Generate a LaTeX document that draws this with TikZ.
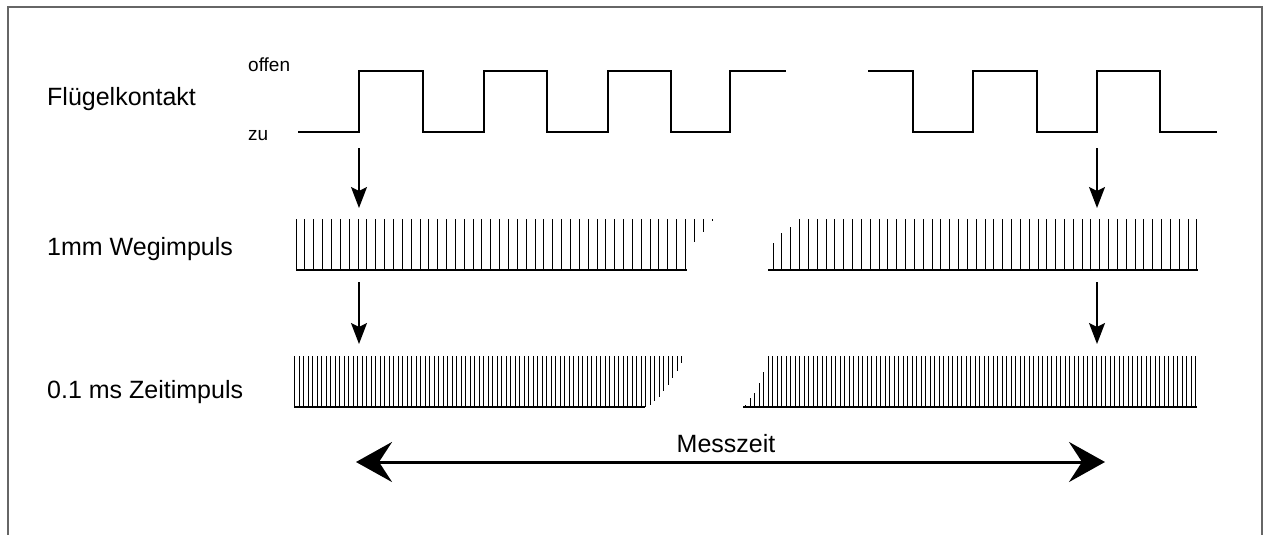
\documentclass[tikz,border=0pt]{standalone}
\usepackage{fontspec}
\setmainfont{Liberation Sans}
\usetikzlibrary{arrows.meta}
\begin{document}
\begin{tikzpicture}[x=1pt,y=-1pt,
  lbl/.style={anchor=base west,inner sep=0pt,font=\fontsize{25}{30}\selectfont},
  lvl/.style={anchor=base west,inner sep=0pt,font=\fontsize{19}{23}\selectfont},
  wave/.style={line width=2.7pt,line join=miter},
  pulse/.style={line width=0.8pt},
  baseln/.style={line width=1.2pt},
  flow/.style={line width=1.5pt,-{Stealth[length=21pt,width=16pt,inset=4pt]}},
  span/.style={line width=3pt,{Stealth[length=36pt,width=40pt,inset=13pt]}-{Stealth[length=36pt,width=40pt,inset=13pt]}},
  frame/.style={line width=1.5pt,draw=black!60}]
\useasboundingbox (0,0) rectangle (1263,535);
\draw[frame] (8,535) -- (8,7) -- (1262,7) -- (1262,535);

% labels
\node[lbl] (fk) at (47,105) {Flügelkontakt};
\node[lbl] (wi) at (47,255) {1mm Wegimpuls};
\node[lbl] (zi) at (47,398) {0.1 ms Zeitimpuls};
\node[lvl] (of) at (248,71.5) {offen};
\node[lvl] (zu) at (248,140) {zu};

% square wave
\draw[wave] (298,132) -- (359,132) -- (359,71) -- (423,71) -- (423,132) -- (484,132) -- (484,71) -- (547,71) -- (547,132) -- (608,132) -- (608,71) -- (671,71) -- (671,132) -- (730,132) -- (730,71) -- (786,71);
\draw[wave] (868,71) -- (913,71) -- (913,132) -- (973,132) -- (973,71) -- (1037,71) -- (1037,132) -- (1097,132) -- (1097,71) -- (1160,71) -- (1160,132) -- (1217,132);

% 1mm pulses left
\foreach \k in {0,...,44} \draw[pulse] ({296+8.85*\k},219) -- ({296+8.85*\k},270);
\foreach \x/\b in {694.2/242,703.1/232,711.9/221} \draw[pulse] (\x,219) -- (\x,\b);
\draw[baseln] (296,270) -- (687,270);

% 1mm pulses right
\foreach \k in {3,...,48} \draw[pulse] ({773+8.83*\k},219) -- ({773+8.83*\k},270);
\foreach \x/\t in {773/243,781.8/233,790.7/227} \draw[pulse] (\x,\t) -- (\x,270);
\draw[baseln] (768,270) -- (1198,270);

% 0.1 ms pulses left
\foreach \k in {0,...,78} \draw[pulse] ({294.5+4.5*\k},356) -- ({294.5+4.5*\k},407);
\foreach \x/\b in {650/404.8,654.5/401.1,659/396.5,663.5/391.1,668/384.9,672.5/378.2,677/370.8,681.5/362.9} \draw[pulse] (\x,356) -- (\x,\b);
\draw[baseln] (294,407) -- (645,407);

% 0.1 ms pulses right
\foreach \k in {0,...,95} \draw[pulse] ({768+4.5*\k},356) -- ({768+4.5*\k},407);
\foreach \x/\t in {745.5/405,750/398,754.5/393,759/383,763.5/372} \draw[pulse] (\x,\t) -- (\x,407);
\draw[baseln] (743,407) -- (1197,407);

% vertical arrows
\coordinate (a1s) at (359,148); \coordinate (a1e) at (359,208);
\coordinate (a2s) at (359,282); \coordinate (a2e) at (359,344);
\coordinate (b1s) at (1097,148); \coordinate (b1e) at (1097,208);
\coordinate (b2s) at (1097,282); \coordinate (b2e) at (1097,344);
\draw[flow] (a1s) -- (a1e);
\draw[flow] (a2s) -- (a2e);
\draw[flow] (b1s) -- (b1e);
\draw[flow] (b2s) -- (b2e);

% Messzeit
\node[lbl,anchor=base] (mz) at (726,452) {Messzeit};
\coordinate (ml) at (356,462); \coordinate (mr) at (1105,462);
\draw[span] (ml) -- (mr);
\end{tikzpicture}
\end{document}
